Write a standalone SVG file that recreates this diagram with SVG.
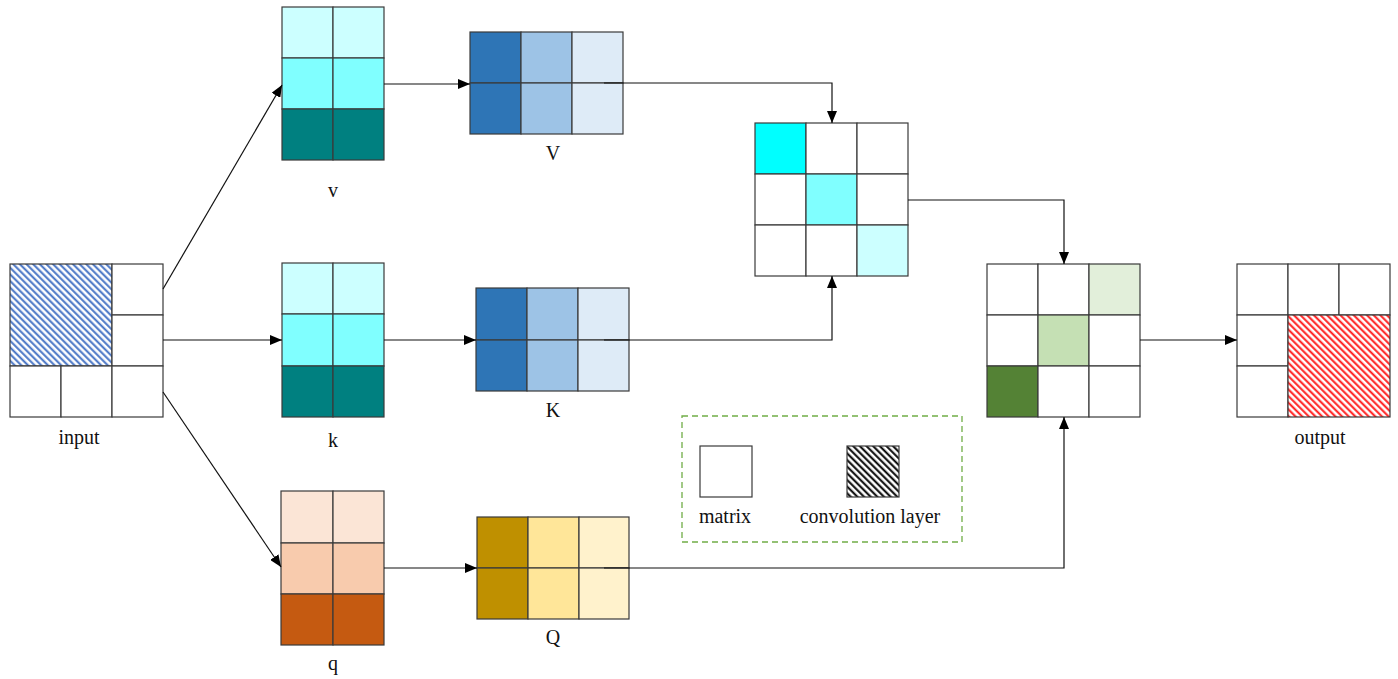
<svg xmlns="http://www.w3.org/2000/svg" width="1398" height="679" viewBox="0 0 1398 679">
  <defs>
    <style>
      .cell { stroke: #3a3a3a; stroke-width: 1.2; }
      .wire { fill: none; stroke: #111; stroke-width: 1.2; }
      .lbl { font-family: "Liberation Serif", "Times New Roman", serif; font-size: 20px; fill: #111; text-anchor: middle; }
    </style>
    <marker id="arrow" markerUnits="userSpaceOnUse" markerWidth="12" markerHeight="10" refX="12" refY="5" orient="auto">
      <path d="M0,0 L12,5 L0,10 z" fill="#000"/>
    </marker>
    <pattern id="hatchBlue" patternUnits="userSpaceOnUse" width="4.7" height="4.7" patternTransform="rotate(-45)">
      <rect width="4.7" height="4.7" fill="#ffffff"/>
      <line x1="1.2" y1="0" x2="1.2" y2="4.7" stroke="#4472c4" stroke-width="2"/>
    </pattern>
    <pattern id="hatchRed" patternUnits="userSpaceOnUse" width="4.7" height="4.7" patternTransform="rotate(-45)">
      <rect width="4.7" height="4.7" fill="#ffffff"/>
      <line x1="1.2" y1="0" x2="1.2" y2="4.7" stroke="#ff1a1a" stroke-width="2"/>
    </pattern>
    <pattern id="hatchBlack" patternUnits="userSpaceOnUse" width="4.7" height="4.7" patternTransform="rotate(-45)">
      <rect width="4.7" height="4.7" fill="#ffffff"/>
      <line x1="1.2" y1="0" x2="1.2" y2="4.7" stroke="#000" stroke-width="2"/>
    </pattern>
  </defs>

  <rect width="1398" height="679" fill="#ffffff"/>

  <!-- input feature map: 3x3 grid with a 2x2 convolution window -->
  <g id="input">
    <rect class="cell" x="10" y="264" width="102" height="102" fill="url(#hatchBlue)"/>
    <rect class="cell" x="112" y="264" width="51" height="51" fill="#fff"/>
    <rect class="cell" x="112" y="315" width="51" height="51" fill="#fff"/>
    <rect class="cell" x="10" y="366" width="51" height="51" fill="#fff"/>
    <rect class="cell" x="61" y="366" width="51" height="51" fill="#fff"/>
    <rect class="cell" x="112" y="366" width="51" height="51" fill="#fff"/>
    <text class="lbl" x="79" y="444">input</text>
  </g>

  <!-- v projection -->
  <g id="v-proj">
    <rect class="cell" x="282" y="7" width="51" height="51" fill="#ccffff"/>
    <rect class="cell" x="333" y="7" width="51" height="51" fill="#ccffff"/>
    <rect class="cell" x="282" y="58" width="51" height="51" fill="#80ffff"/>
    <rect class="cell" x="333" y="58" width="51" height="51" fill="#80ffff"/>
    <rect class="cell" x="282" y="109" width="51" height="51" fill="#008080"/>
    <rect class="cell" x="333" y="109" width="51" height="51" fill="#008080"/>
    <text class="lbl" x="333" y="197">v</text>
  </g>

  <!-- k projection -->
  <g id="k-proj">
    <rect class="cell" x="282" y="263" width="51" height="51" fill="#ccffff"/>
    <rect class="cell" x="333" y="263" width="51" height="51" fill="#ccffff"/>
    <rect class="cell" x="282" y="314" width="51" height="52" fill="#80ffff"/>
    <rect class="cell" x="333" y="314" width="51" height="52" fill="#80ffff"/>
    <rect class="cell" x="282" y="366" width="51" height="51" fill="#008080"/>
    <rect class="cell" x="333" y="366" width="51" height="51" fill="#008080"/>
    <text class="lbl" x="333" y="447">k</text>
  </g>

  <!-- q projection -->
  <g id="q-proj">
    <rect class="cell" x="281" y="491" width="52" height="52" fill="#fbe5d6"/>
    <rect class="cell" x="333" y="491" width="51" height="52" fill="#fbe5d6"/>
    <rect class="cell" x="281" y="543" width="52" height="51" fill="#f8cbad"/>
    <rect class="cell" x="333" y="543" width="51" height="51" fill="#f8cbad"/>
    <rect class="cell" x="281" y="594" width="52" height="51" fill="#c55a11"/>
    <rect class="cell" x="333" y="594" width="51" height="51" fill="#c55a11"/>
    <text class="lbl" x="333" y="670">q</text>
  </g>

  <!-- V matrix -->
  <g id="V-mat">
    <rect class="cell" x="470" y="32" width="51" height="51" fill="#2e75b6"/>
    <rect class="cell" x="521" y="32" width="51" height="51" fill="#9dc3e6"/>
    <rect class="cell" x="572" y="32" width="51" height="51" fill="#deebf7"/>
    <rect class="cell" x="470" y="83" width="51" height="51" fill="#2e75b6"/>
    <rect class="cell" x="521" y="83" width="51" height="51" fill="#9dc3e6"/>
    <rect class="cell" x="572" y="83" width="51" height="51" fill="#deebf7"/>
    <text class="lbl" x="553" y="160">V</text>
  </g>

  <!-- K matrix -->
  <g id="K-mat">
    <rect class="cell" x="476" y="288" width="51" height="52" fill="#2e75b6"/>
    <rect class="cell" x="527" y="288" width="51" height="52" fill="#9dc3e6"/>
    <rect class="cell" x="578" y="288" width="51" height="52" fill="#deebf7"/>
    <rect class="cell" x="476" y="340" width="51" height="51" fill="#2e75b6"/>
    <rect class="cell" x="527" y="340" width="51" height="51" fill="#9dc3e6"/>
    <rect class="cell" x="578" y="340" width="51" height="51" fill="#deebf7"/>
    <text class="lbl" x="553" y="417">K</text>
  </g>

  <!-- Q matrix -->
  <g id="Q-mat">
    <rect class="cell" x="477" y="517" width="51" height="51" fill="#bf9000"/>
    <rect class="cell" x="528" y="517" width="51" height="51" fill="#ffe699"/>
    <rect class="cell" x="579" y="517" width="50" height="51" fill="#fff2cc"/>
    <rect class="cell" x="477" y="568" width="51" height="51" fill="#bf9000"/>
    <rect class="cell" x="528" y="568" width="51" height="51" fill="#ffe699"/>
    <rect class="cell" x="579" y="568" width="50" height="51" fill="#fff2cc"/>
    <text class="lbl" x="553" y="644">Q</text>
  </g>

  <!-- attention weights (V x K) -->
  <g id="attn">
    <rect class="cell" x="755" y="123" width="51" height="51" fill="#00ffff"/>
    <rect class="cell" x="806" y="123" width="51" height="51" fill="#fff"/>
    <rect class="cell" x="857" y="123" width="51" height="51" fill="#fff"/>
    <rect class="cell" x="755" y="174" width="51" height="51" fill="#fff"/>
    <rect class="cell" x="806" y="174" width="51" height="51" fill="#80ffff"/>
    <rect class="cell" x="857" y="174" width="51" height="51" fill="#fff"/>
    <rect class="cell" x="755" y="225" width="51" height="51" fill="#fff"/>
    <rect class="cell" x="806" y="225" width="51" height="51" fill="#fff"/>
    <rect class="cell" x="857" y="225" width="51" height="51" fill="#ccffff"/>
  </g>

  <!-- combined result (attention x Q) -->
  <g id="combined">
    <rect class="cell" x="987" y="264" width="51" height="51" fill="#fff"/>
    <rect class="cell" x="1038" y="264" width="51" height="51" fill="#fff"/>
    <rect class="cell" x="1089" y="264" width="51" height="51" fill="#e2efda"/>
    <rect class="cell" x="987" y="315" width="51" height="51" fill="#fff"/>
    <rect class="cell" x="1038" y="315" width="51" height="51" fill="#c5e0b4"/>
    <rect class="cell" x="1089" y="315" width="51" height="51" fill="#fff"/>
    <rect class="cell" x="987" y="366" width="51" height="51" fill="#548235"/>
    <rect class="cell" x="1038" y="366" width="51" height="51" fill="#fff"/>
    <rect class="cell" x="1089" y="366" width="51" height="51" fill="#fff"/>
  </g>

  <!-- output feature map -->
  <g id="output">
    <rect class="cell" x="1237" y="264" width="51" height="51" fill="#fff"/>
    <rect class="cell" x="1288" y="264" width="51" height="51" fill="#fff"/>
    <rect class="cell" x="1339" y="264" width="51" height="51" fill="#fff"/>
    <rect class="cell" x="1237" y="315" width="51" height="51" fill="#fff"/>
    <rect class="cell" x="1237" y="366" width="51" height="51" fill="#fff"/>
    <rect class="cell" x="1288" y="315" width="102" height="102" fill="url(#hatchRed)"/>
    <text class="lbl" x="1320" y="444">output</text>
  </g>

  <!-- legend -->
  <g id="legend">
    <rect x="682" y="416" width="280" height="126" fill="none" stroke="#70ad47" stroke-width="1.3" stroke-dasharray="6,4"/>
    <rect class="cell" x="700" y="446" width="52" height="51" fill="#fff"/>
    <rect class="cell" x="847" y="446" width="52" height="51" fill="url(#hatchBlack)"/>
    <text class="lbl" x="725" y="523">matrix</text>
    <text class="lbl" x="870" y="523">convolution layer</text>
  </g>

  <!-- connectors -->
  <g id="connectors">
    <line class="wire" x1="163" y1="289" x2="282" y2="85" marker-end="url(#arrow)"/>
    <line class="wire" x1="163" y1="340" x2="282" y2="340" marker-end="url(#arrow)"/>
    <line class="wire" x1="163" y1="392" x2="281" y2="567" marker-end="url(#arrow)"/>
    <line class="wire" x1="384" y1="84" x2="470" y2="84" marker-end="url(#arrow)"/>
    <line class="wire" x1="384" y1="340" x2="476" y2="340" marker-end="url(#arrow)"/>
    <line class="wire" x1="384" y1="568" x2="477" y2="568" marker-end="url(#arrow)"/>
    <polyline class="wire" points="604,83 832,83 832,123" marker-end="url(#arrow)"/>
    <polyline class="wire" points="604,340 832,340 832,276" marker-end="url(#arrow)"/>
    <polyline class="wire" points="908,200 1064,200 1064,264" marker-end="url(#arrow)"/>
    <polyline class="wire" points="604,568 1064,568 1064,417" marker-end="url(#arrow)"/>
    <line class="wire" x1="1140" y1="340" x2="1237" y2="340" marker-end="url(#arrow)"/>
  </g>
</svg>
